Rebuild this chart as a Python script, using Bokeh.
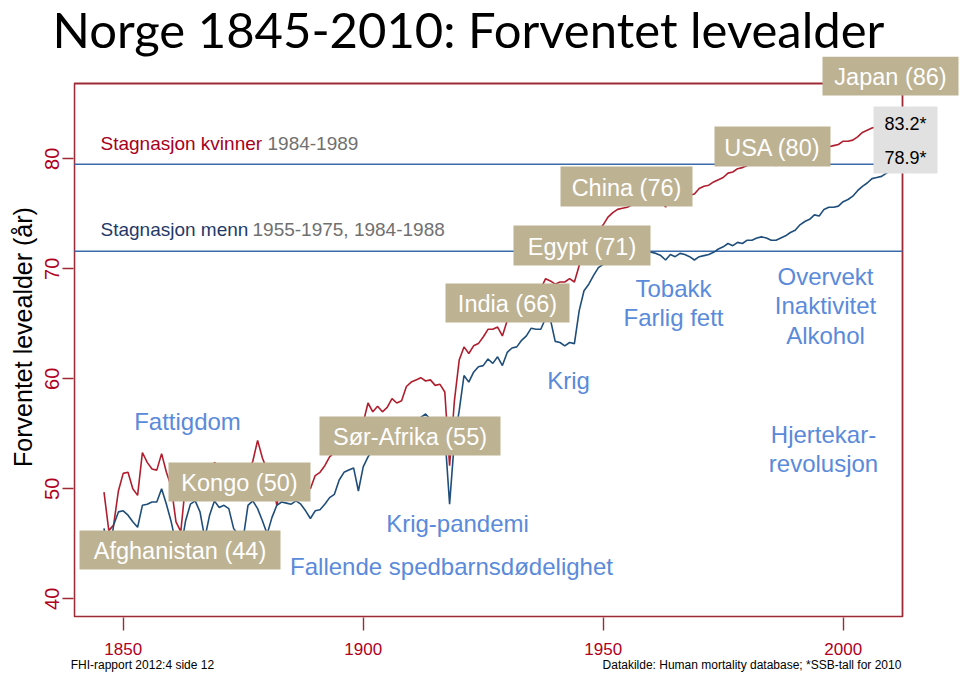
from bokeh.plotting import figure
from bokeh.models import Range1d, Label, BoxAnnotation, FixedTicker, LinearAxis, Title
from bokeh.embed import file_html
from bokeh.resources import INLINE

# ---------------- data ----------------
years = list(range(1846, 2011))
women = [
    49.7, 46.2, 46.7, 49.8, 51.4, 51.5, 50.0, 49.4, 53.3, 52.4,
    51.8, 51.7, 53.2, 51.5, 50.2, 47.0, 46.1, 50.5, 52.0, 52.2,
    51.3, 49.5, 51.0, 52.4, 51.9, 52.0, 51.7, 50.0, 49.5, 48.9,
    51.5, 52.5, 54.4, 52.8, 51.7, 51.0, 48.5, 50.5, 51.2, 52.1,
    52.0, 51.5, 50.6, 50.0, 51.2, 51.5, 52.1, 52.9, 53.3, 54.6,
    55.2, 55.5, 55.6, 53.8, 56.0, 57.8, 57.0, 57.5, 57.0, 57.4,
    58.2, 57.8, 58.0, 59.3, 59.7, 59.9, 60.1, 59.8, 59.9, 59.4,
    59.5, 58.8, 52.1, 58.0, 61.7, 62.9, 62.3, 63.0, 63.2, 63.8,
    64.5, 64.5, 64.7, 63.9, 65.3, 65.8, 66.0, 66.5, 67.3, 67.5,
    67.6, 68.2, 69.1, 68.9, 68.6, 68.8, 68.8, 69.1, 68.8, 70.3,
    71.8, 72.3, 72.8, 73.4, 74.0, 74.7, 75.1, 75.4, 75.5, 75.6,
    75.8, 75.9, 76.1, 76.3, 76.4, 76.5, 76.3, 75.6, 76.6, 76.8,
    76.9, 76.8, 76.7, 76.8, 77.3, 77.5, 77.6, 77.9, 78.1, 78.3,
    78.7, 78.8, 79.1, 79.2, 79.4, 79.5, 79.7, 79.8, 79.5, 79.5,
    79.4, 79.5, 79.6, 79.8, 79.9, 80.2, 80.4, 80.4, 80.8, 80.7,
    81.1, 81.1, 81.2, 81.3, 81.6, 81.6, 81.7, 82.0, 82.4, 82.6,
    82.8, 82.9, 83.1, 83.2, 83.2,
]
men = [
    46.4, 43.5, 46.7, 47.9, 48.0, 47.6, 47.0, 46.5, 48.5, 48.6,
    48.8, 48.8, 50.0, 48.6, 47.0, 45.0, 44.5, 47.1, 48.6, 48.9,
    47.9, 45.5, 47.6, 48.9, 48.3, 48.5, 48.2, 46.4, 45.8, 45.5,
    48.5, 48.9, 48.2, 47.1, 45.9, 47.4, 48.5, 48.8, 48.7, 48.6,
    48.9, 48.6, 48.0, 47.3, 48.0, 48.1, 48.6, 49.2, 49.5, 50.8,
    51.5, 51.7, 51.9, 49.8, 52.0, 52.9, 53.5, 53.8, 53.5, 54.2,
    54.5, 54.3, 55.0, 55.8, 56.0, 56.2, 56.5, 56.8, 56.3, 56.0,
    55.5, 55.0, 48.6, 54.4, 57.1, 60.3, 59.7, 60.6, 61.1, 61.2,
    61.8, 61.4, 62.0, 61.2, 62.4, 62.8, 62.9, 63.5, 63.9, 64.6,
    64.5, 64.5, 65.5, 65.4, 63.4, 63.3, 63.0, 63.3, 63.2, 66.2,
    68.0, 68.6, 69.4, 70.1, 70.4, 71.0, 71.2, 71.3, 71.6, 71.6,
    71.7, 71.5, 71.8, 71.6, 71.5, 71.4, 71.2, 70.8, 71.3, 71.1,
    71.4, 71.3, 71.1, 70.8, 71.1, 71.2, 71.3, 71.5, 71.8, 72.0,
    72.3, 72.1, 72.4, 72.3, 72.6, 72.6, 72.8, 72.9, 72.8, 72.6,
    72.6, 72.8, 73.0, 73.3, 73.5, 74.0, 74.3, 74.5, 74.9, 74.8,
    75.4, 75.6, 75.6, 75.7, 76.1, 76.3, 76.6, 77.1, 77.5, 77.8,
    78.2, 78.3, 78.4, 78.7, 78.9,
]
stagnation_women = 79.5
stagnation_men = 71.6
x_ticks = [1850, 1900, 1950, 2000]
y_ticks = [40, 50, 60, 70, 80]
latest = ["83.2*", "78.9*"]
country_labels = ["Japan (86)", "USA (80)", "China (76)", "Egypt (71)",
                  "India (66)", "Sør-Afrika (55)", "Kongo (50)", "Afghanistan (44)"]
footer_left = "FHI-rapport 2012:4 side 12"
footer_right = "Datakilde: Human mortality database; *SSB-tall for 2010"
footer_ticks = [1854, 1981]

# ---------------- geometry helpers (pixel -> data) ----------------
def PX(px):
    return 1850 + (px - 122.7) / 4.8

def PY(py):
    return 80 - (py - 158.3) / 11.0

W, H = 960, 680
FL, FT, FB = 73, 56, 617    # canvas frame: left / top / bottom (reaches right edge)
BOX_R, BOX_T = 902, 83      # visible plot box right / top

RED_FRAME = "#9E2A36"
RED_TXT = "#B0001E"
RED_LINE = "#B01E2E"
NAVY_LINE = "#1F4E7A"
SPAN_BLUE = "#3A6BA8"
ANNOT_BLUE = "#5A8ADA"
TAN = "#BDB292"
GRAY_BOX = "#E1E1E1"

p = figure(width=W, height=H, frame_width=W - FL, frame_height=FB - FT,
           output_backend="svg", toolbar_location=None,
           x_range=Range1d(PX(FL), PX(W)), y_range=Range1d(PY(FB), PY(FT)),
           min_border_left=FL, min_border_right=0,
           min_border_top=FT, min_border_bottom=H - FB)
p.background_fill_color = "white"
p.border_fill_color = "white"
p.outline_line_color = None
p.xgrid.visible = False
p.ygrid.visible = False

# title
p.title = Title(text="Norge 1845-2010: Forventet levealder", align="left", offset=-21,
                vertical_align="top", standoff=-6, text_font="Lato",
                text_font_size="49px", text_font_style="normal", text_color="black")

# x axis
p.xaxis.ticker = FixedTicker(ticks=x_ticks)
p.xaxis.axis_line_color = None
p.xaxis.major_tick_line_color = RED_FRAME
p.xaxis.major_tick_line_width = 1.4
p.xaxis.major_tick_in = 0
p.xaxis.major_tick_out = 13
p.xaxis.minor_tick_line_color = None
p.xaxis.major_label_text_color = RED_TXT
p.xaxis.major_label_text_font = "Liberation Sans"
p.xaxis.major_label_text_font_size = "17px"
p.xaxis.major_label_standoff = 12

# footer line, drawn as a second bottom axis
fax = LinearAxis(ticker=FixedTicker(ticks=footer_ticks),
                 major_label_overrides={footer_ticks[0]: footer_left,
                                        footer_ticks[1]: footer_right},
                 axis_line_color=None, major_tick_line_color=None,
                 minor_tick_line_color=None, major_tick_in=0, major_tick_out=0,
                 major_label_standoff=0, major_label_text_font="Liberation Sans",
                 major_label_text_font_size="12px", major_label_text_color="black")
p.add_layout(fax, "below")

# y axis
p.yaxis.ticker = FixedTicker(ticks=y_ticks)
p.yaxis.axis_line_color = None
p.yaxis.major_tick_line_color = RED_FRAME
p.yaxis.major_tick_line_width = 1.4
p.yaxis.major_tick_in = 0
p.yaxis.major_tick_out = 11
p.yaxis.minor_tick_line_color = None
p.yaxis.major_label_orientation = "vertical"
p.yaxis.major_label_text_color = RED_TXT
p.yaxis.major_label_text_font = "Liberation Sans"
p.yaxis.major_label_text_font_size = "20px"
p.yaxis.major_label_standoff = 3
p.yaxis.axis_label = "Forventet levealder (år)"
p.yaxis.axis_label_text_font = "Liberation Sans"
p.yaxis.axis_label_text_font_size = "25px"
p.yaxis.axis_label_text_font_style = "normal"
p.yaxis.axis_label_text_color = "black"
p.yaxis.axis_label_standoff = 6

# visible plot box
p.add_layout(BoxAnnotation(left=PX(FL + 0.9), right=PX(BOX_R), top=PY(BOX_T), bottom=PY(FB - 0.9),
                           fill_color=None, fill_alpha=0.0, line_color=RED_FRAME,
                           line_alpha=1.0, line_width=1.8, level="underlay"))

# stagnation lines (span the plot box)
x0 = PX(FL + 0.9)
x1 = PX(BOX_R)
p.segment(x0=[x0, x0], x1=[x1, x1], y0=[stagnation_women, stagnation_men],
          y1=[stagnation_women, stagnation_men], line_color=SPAN_BLUE, line_width=1.5)

# series
p.line(years, women, line_color=RED_LINE, line_width=1.6)
p.line(years, men, line_color=NAVY_LINE, line_width=1.6)

def add_text(txt, px, py, size="24px", color=ANNOT_BLUE, align="center",
             baseline="middle", font="Liberation Sans"):
    p.add_layout(Label(x=PX(px), y=PY(py), text=txt, text_font=font,
                       text_font_size=size, text_color=color, text_align=align,
                       text_baseline=baseline))

def add_box(l, r, t, b, color=TAN):
    p.add_layout(BoxAnnotation(left=PX(l), right=PX(r), top=PY(t), bottom=PY(b),
                               fill_color=color, fill_alpha=1.0, line_color=None))

# country boxes (pixel boxes l, r, t, b)
boxes = [
    (822, 958, 56, 95),
    (714, 830, 126, 166),
    (560, 692, 166, 206),
    (513, 650, 225, 265),
    (445, 569, 283, 322),
    (319, 500, 416, 455),
    (168, 310, 462, 501),
    (79, 280, 530, 569),
]
for (l, r, t, b), txt in zip(boxes, country_labels):
    add_box(l, r, t, b)
    add_text(txt, (l + r) / 2, (t + b) / 2 + 1, size="23.5px", color="white")

# latest values box
add_box(873, 937, 106, 173, color=GRAY_BOX)
add_text(latest[0], 905, 123, size="18px", color="black")
add_text(latest[1], 905, 157, size="18px", color="black")

# blue annotations
for txt, x, y in [
    ("Fattigdom", 187, 421),
    ("Krig-pandemi", 457, 523),
    ("Fallende spedbarnsdødelighet", 451, 566),
    ("Krig", 568, 380),
    ("Tobakk", 673, 288),
    ("Farlig fett", 673, 317),
    ("Overvekt", 825, 276),
    ("Inaktivitet", 825, 305),
    ("Alkohol", 825, 335),
    ("Hjertekar-", 823, 434),
    ("revolusjon", 823, 463),
]:
    add_text(txt, x, y)

# stagnation texts
add_text("Stagnasjon kvinner", 100, 143, size="19px", color="#A8001C", align="left")
add_text("1984-1989", 267, 143, size="19px", color="#707070", align="left")
add_text("Stagnasjon menn", 100, 229, size="19px", color="#1F3A68", align="left")
add_text("1955-1975, 1984-1988", 252, 229, size="19px", color="#707070", align="left")

open("out.html", "w").write(file_html(p, INLINE))
